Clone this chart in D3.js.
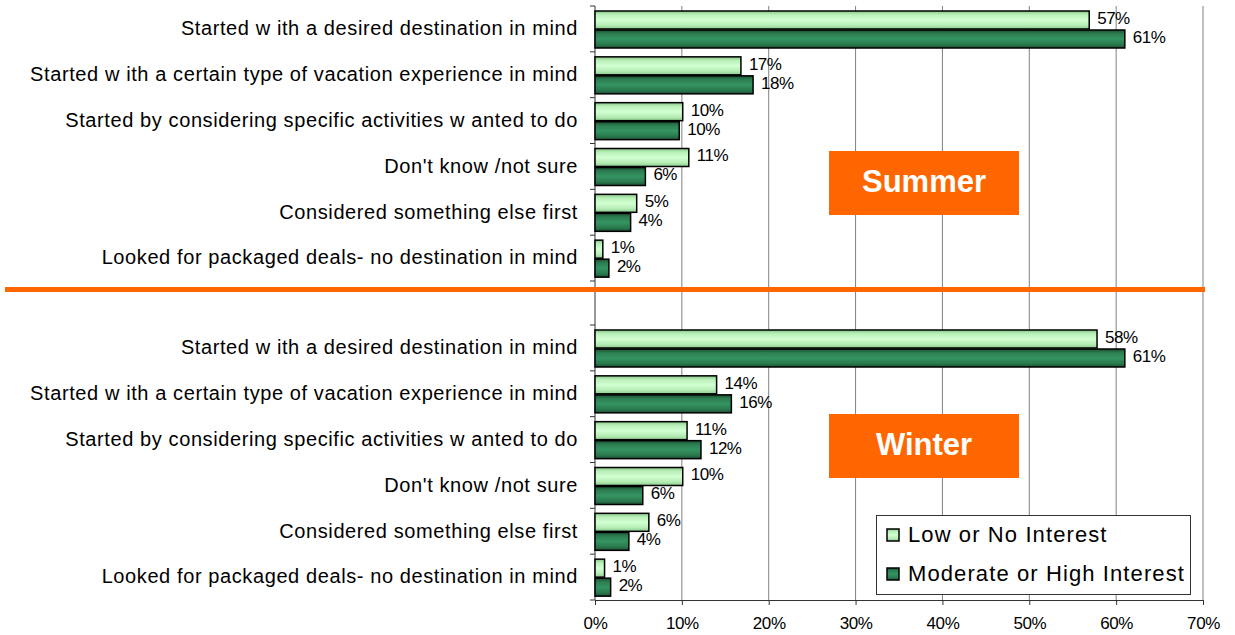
<!DOCTYPE html>
<html>
<head>
<meta charset="utf-8">
<script src="https://cdn.jsdelivr.net/npm/d3@7"></script>
<style>
  body { margin: 0; background: #fff; }
  svg { display: block; font-family: "Liberation Sans", Arial, sans-serif; }
</style>
</head>
<body>
<svg id="chart" width="1235" height="635"></svg>
<script>
const categories = [
  "Started w ith a desired destination in mind",
  "Started w ith a certain type of vacation experience in mind",
  "Started by considering specific activities w anted to do",
  "Don't know /not sure",
  "Considered something else first",
  "Looked for packaged deals- no destination in mind"
];
const seriesNames = ["Low or No Interest", "Moderate or High Interest"];
const summerLow = [56.9, 16.8, 10.1, 10.8, 4.8, 0.9];
const summerHigh = [61.0, 18.2, 9.7, 5.8, 4.1, 1.6];
const winterLow = [57.8, 14.0, 10.6, 10.1, 6.2, 1.1];
const winterHigh = [61.0, 15.7, 12.2, 5.5, 3.9, 1.8];
const xTicks = [0, 10, 20, 30, 40, 50, 60, 70];

const svg = d3.select("#chart");

// gradients for the cylinder look
const defs = svg.append("defs");
function grad(id, stops) {
  const g = defs.append("linearGradient").attr("id", id)
    .attr("x1", 0).attr("y1", 0).attr("x2", 0).attr("y2", 1);
  stops.forEach(([o, c]) => g.append("stop").attr("offset", o).attr("stop-color", c));
}
grad("gLight", [[0, "#86c486"], [0.2, "#b8efb8"], [0.5, "#d2ffd2"], [0.8, "#b4ecb4"], [1, "#8cc88c"]]);
grad("gDark", [[0, "#1b4d31"], [0.2, "#2c7d51"], [0.5, "#359462"], [0.8, "#2a7a4e"], [1, "#1c5034"]]);
const fills = ["url(#gLight)", "url(#gDark)"];

const x = d3.scaleLinear().domain([0, 70]).range([595, 1203]);
const yTop = d3.scaleBand().domain(categories).range([6, 281]);
const yBot = d3.scaleBand().domain(categories).range([325, 600]);

// gridlines
svg.append("g").selectAll("line")
  .data(xTicks.slice(1))
  .enter().append("line")
    .attr("x1", d => x(d)).attr("x2", d => x(d))
    .attr("y1", 6).attr("y2", 600)
    .attr("stroke", "#808080").attr("stroke-width", 1);

// x axis at the bottom
const xAxis = svg.append("g").attr("transform", "translate(0,600)")
  .call(d3.axisBottom(x).tickValues(xTicks).tickFormat(d => d + "%").tickSize(5).tickPadding(12));
xAxis.select(".domain").attr("stroke", "#333");
xAxis.selectAll(".tick line").attr("stroke", "#333");
xAxis.selectAll("text").attr("font-size", 17).attr("letter-spacing", -0.4).attr("fill", "#000")
  .attr("font-family", "Liberation Sans, Arial, sans-serif");

// left axis line with category ticks
svg.append("line").attr("x1", 595).attr("x2", 595).attr("y1", 6).attr("y2", 600)
  .attr("stroke", "#333").attr("stroke-width", 1);
const tickYs = [];
[yTop, yBot].forEach(y => {
  categories.forEach(c => tickYs.push(y(c)));
  tickYs.push(y.range()[1]);
});
svg.append("g").selectAll("line").data(tickYs).enter().append("line")
  .attr("x1", 590).attr("x2", 595).attr("y1", d => d).attr("y2", d => d)
  .attr("stroke", "#333");

function panel(y, low, high) {
  const g = svg.append("g");
  const bh = 19;
  const rows = categories.map((c, i) => ({ c, vals: [low[i], high[i]] }));
  rows.forEach(r => {
    r.vals.forEach((v, k) => {
      const y0 = y(r.c) + 5 + k * bh;
      g.append("rect")
        .attr("x", x(0)).attr("y", y0)
        .attr("width", x(v) - x(0)).attr("height", bh - 1)
        .attr("fill", fills[k]).attr("stroke", "#000").attr("stroke-width", 1.5);
      g.append("text")
        .attr("x", x(v) + 8).attr("y", y0 + bh / 2 - 1)
        .attr("dominant-baseline", "middle")
        .attr("font-size", 17).attr("letter-spacing", -0.5)
        .text(Math.round(v) + "%");
    });
    g.append("text")
      .attr("x", 578).attr("y", y(r.c) + y.bandwidth() / 2 + 1)
      .attr("text-anchor", "end").attr("dominant-baseline", "middle")
      .attr("font-size", 20).attr("letter-spacing", 0.6).text(r.c);
  });
}
panel(yTop, summerLow, summerHigh);
panel(yBot, winterLow, winterHigh);

// season boxes
[["Summer", 151], ["Winter", 414]].forEach(([t, y0]) => {
  svg.append("rect").attr("x", 829).attr("y", y0).attr("width", 190).attr("height", 64)
    .attr("fill", "#ff6600");
  svg.append("text").attr("x", 924).attr("y", y0 + 33)
    .attr("text-anchor", "middle").attr("dominant-baseline", "middle")
    .attr("font-size", 31).attr("font-weight", "bold").attr("fill", "#fff").text(t);
});

// orange divider
svg.append("line").attr("x1", 5).attr("x2", 1205).attr("y1", 289.5).attr("y2", 289.5)
  .attr("stroke", "#ff6600").attr("stroke-width", 5);

// legend
const lg = svg.append("g");
lg.append("rect").attr("x", 876.5).attr("y", 515.5).attr("width", 314).attr("height", 79)
  .attr("fill", "#fff").attr("stroke", "#333");
seriesNames.forEach((s, i) => {
  const cy = 535 + i * 39;
  lg.append("rect").attr("x", 887).attr("y", cy - 6).attr("width", 12).attr("height", 12)
    .attr("fill", fills[i]).attr("stroke", "#000").attr("stroke-width", 1.5);
  lg.append("text").attr("x", 908).attr("y", cy + 1).attr("dominant-baseline", "middle")
    .attr("font-size", 22).attr("letter-spacing", 1.1).text(s);
});
</script>
</body>
</html>
